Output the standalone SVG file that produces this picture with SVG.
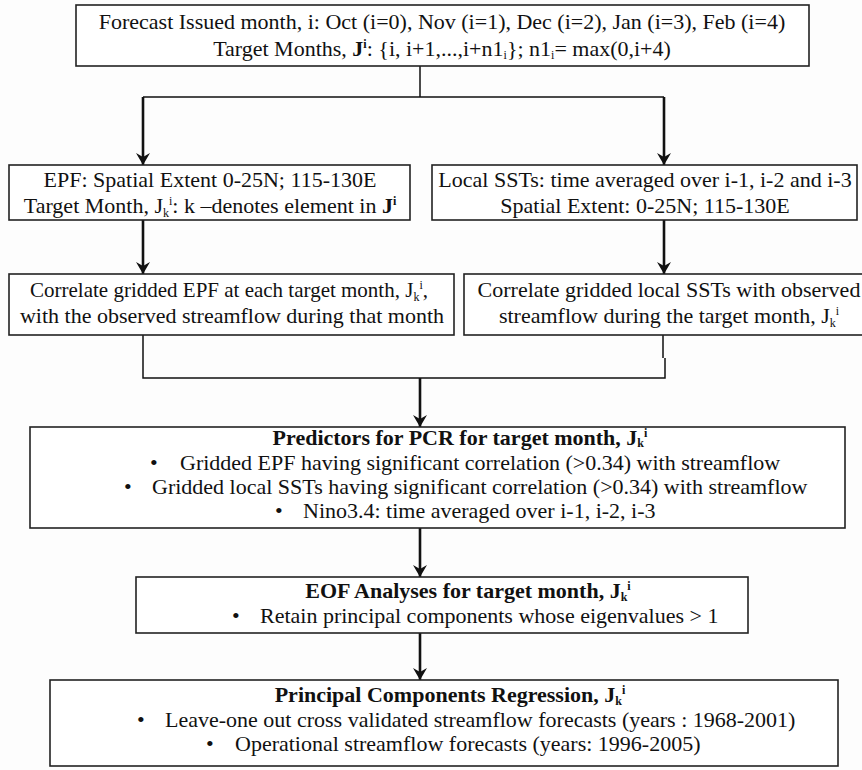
<svg xmlns="http://www.w3.org/2000/svg" width="862" height="770" viewBox="0 0 862 770">
<style>
.bg{fill:#fdfdfd}
.box{fill:#ffffff;stroke:#222;stroke-width:1.6}
.t{font-family:"Liberation Serif","Times New Roman",serif;font-size:22px;fill:#111}
.c{text-anchor:middle}
.b{font-weight:bold}
.s{font-size:12px}
.conn{stroke:#111;fill:none}
.thin{stroke-width:1.5}
.thick{stroke-width:2.6}
</style>
<defs>
<marker id="ah" viewBox="0 0 12 14" refX="12" refY="7" markerWidth="12" markerHeight="14" markerUnits="userSpaceOnUse" orient="auto">
<path d="M0,0 L12,7 L0,14 L4,7 z" fill="#111"/>
</marker>
</defs>
<rect class="bg" x="0" y="0" width="862" height="770"/>

<g id="connectors">
<path class="conn thin" d="M420,66 V97 M143,97 H664"/>
<path class="conn thick" d="M143,97 V165" marker-end="url(#ah)"/>
<path class="conn thick" d="M664,97 V165" marker-end="url(#ah)"/>
<path class="conn thick" d="M143,220 V274" marker-end="url(#ah)"/>
<path class="conn thick" d="M664,220 V274" marker-end="url(#ah)"/>
<path class="conn thin" d="M143,335 V378 H663 M663,335 V358 M665,358 V378 H662"/>
<path class="conn thick" d="M420,378 V427" marker-end="url(#ah)"/>
<path class="conn thick" d="M420,528 V577" marker-end="url(#ah)"/>
<path class="conn thick" d="M420,633 V680" marker-end="url(#ah)"/>
</g>

<g id="forecast">
<rect class="box" x="76" y="5" width="733" height="61"/>
<text class="t c" x="442" y="29">Forecast Issued month, i: Oct (i=0), Nov (i=1), Dec (i=2), Jan (i=3), Feb (i=4)</text>
<text class="t c" x="442" y="56">Target Months, <tspan class="b">J</tspan><tspan class="b s" dy="-8">i</tspan><tspan dy="8">: {i, i+1,...,i+n1</tspan><tspan class="s" dy="3">i</tspan><tspan dy="-3">}; n1</tspan><tspan class="s" dy="3">i</tspan><tspan dy="-3">= max(0,i+4)</tspan></text>
</g>

<g id="epf">
<rect class="box" x="9" y="165" width="401" height="55"/>
<text class="t c" x="210" y="187">EPF: Spatial Extent 0-25N; 115-130E</text>
<text class="t c" x="210" y="213">Target Month, J<tspan class="s" dy="4">k</tspan><tspan class="s" dy="-12">i</tspan><tspan dy="8">: k –denotes element in </tspan><tspan class="b">J</tspan><tspan class="b s" dy="-8">i</tspan></text>
</g>

<g id="localsst">
<rect class="box" x="432" y="165" width="425" height="55"/>
<text class="t c" x="645" y="187">Local SSTs: time averaged over i-1, i-2 and i-3</text>
<text class="t c" x="645" y="213">Spatial Extent: 0-25N; 115-130E</text>
</g>

<g id="corr-epf">
<rect class="box" x="9" y="274" width="445" height="61"/>
<text class="t c" x="229" y="297" style="font-size:21px">Correlate gridded EPF at each target month, J<tspan class="s" dy="4">k</tspan><tspan class="s" dy="-12">i</tspan><tspan dy="8">,</tspan></text>
<text class="t c" x="232" y="323">with the observed streamflow during that month</text>
</g>

<g id="corr-sst">
<rect class="box" x="464" y="274" width="412" height="61"/>
<text class="t c" x="669" y="297">Correlate gridded local SSTs with observed</text>
<text class="t c" x="669" y="323">streamflow during the target month, J<tspan class="s" dy="4">k</tspan><tspan class="s" dy="-12">i</tspan></text>
</g>

<g id="predictors">
<rect class="box" x="30" y="427" width="815" height="101"/>
<text class="t c b" x="460" y="445">Predictors for PCR for target month, J<tspan class="s" dy="2">k</tspan><tspan class="s" dy="-10">i</tspan></text>
<text class="t" x="150" y="470">•<tspan x="180">Gridded EPF having significant correlation (&gt;0.34) with streamflow</tspan></text>
<text class="t" x="124" y="494">•<tspan x="152">Gridded local SSTs having  significant correlation (&gt;0.34) with streamflow</tspan></text>
<text class="t" x="275" y="518">•<tspan x="303">Nino3.4: time averaged over i-1, i-2, i-3</tspan></text>
</g>

<g id="eof">
<rect class="box" x="136" y="577" width="612" height="56"/>
<text class="t c b" x="468" y="598">EOF Analyses for target month, J<tspan class="s" dy="3">k</tspan><tspan class="s" dy="-11">i</tspan></text>
<text class="t" x="232" y="623">•<tspan x="260">Retain principal components whose eigenvalues &gt; 1</tspan></text>
</g>

<g id="pcr">
<rect class="box" x="50" y="680" width="788" height="86"/>
<text class="t c b" x="450" y="702">Principal Components Regression, J<tspan class="s" dy="3">k</tspan><tspan class="s" dy="-11">i</tspan></text>
<text class="t" x="137" y="727">•<tspan x="165">Leave-one out cross validated streamflow forecasts (years : 1968-2001)</tspan></text>
<text class="t" x="206" y="751">•<tspan x="235">Operational streamflow forecasts (years: 1996-2005)</tspan></text>
</g>
</svg>
